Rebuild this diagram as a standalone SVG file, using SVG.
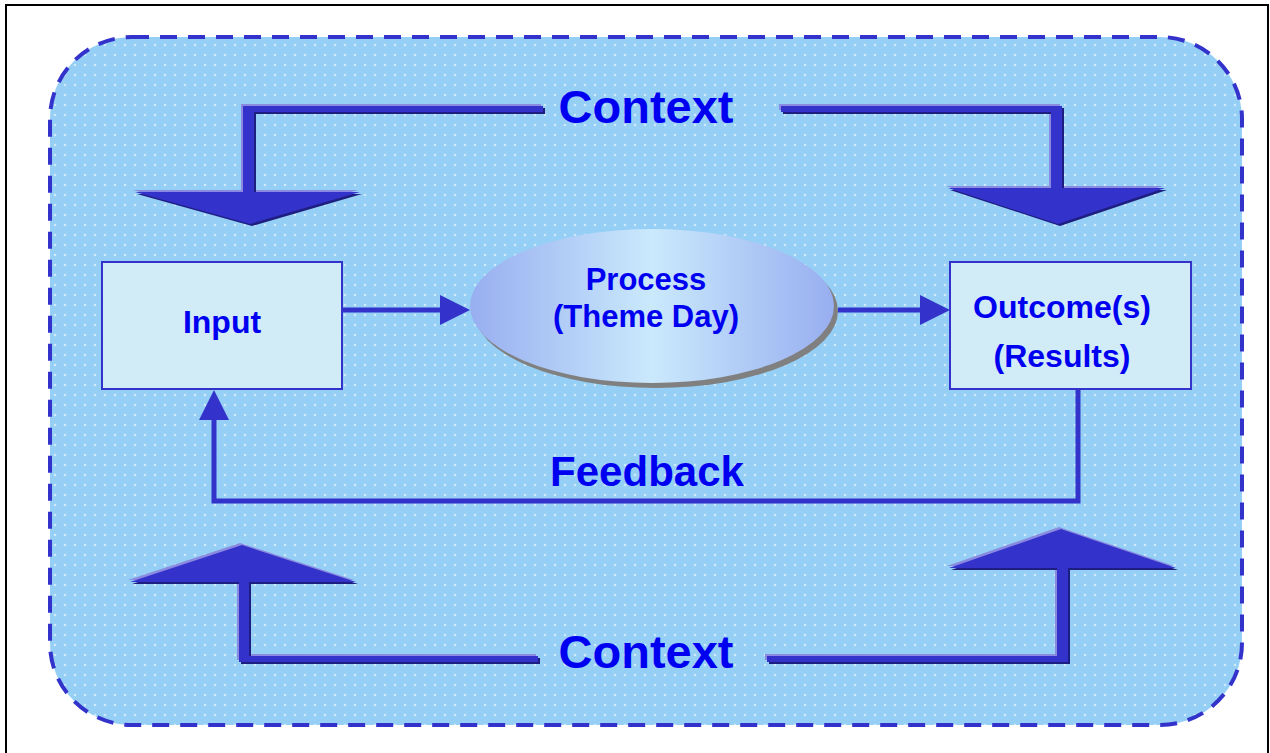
<svg xmlns="http://www.w3.org/2000/svg" width="1270" height="753" viewBox="0 0 1270 753">
  <style>
    .lbl { font-family: "Liberation Sans", Arial, sans-serif; font-weight: bold; fill: #0000F0; text-anchor: middle; }
    .box { fill: #D2ECF7; stroke: #3333CC; stroke-width: 2; }
    .flow { fill: none; stroke: #3333CC; stroke-width: 5; }
    .main { fill: #3333CC; }
    .hi { fill: #8A8AE0; }
    .sh { fill: #1E1E80; }
  </style>
  <defs>
    <pattern id="dots" width="10" height="10" patternUnits="userSpaceOnUse">
      <rect width="10" height="10" fill="#95CFF5"/>
      <circle cx="5" cy="5" r="1.3" fill="#CDE9FB"/>
    </pattern>
    <linearGradient id="procGrad" x1="0" y1="0" x2="1" y2="0">
      <stop offset="0" stop-color="#98AEF0"/>
      <stop offset="0.5" stop-color="#CAE9FC"/>
      <stop offset="1" stop-color="#98AEF0"/>
    </linearGradient>
    <marker id="ah" viewBox="0 0 30 30" markerWidth="30" markerHeight="30" markerUnits="userSpaceOnUse" refX="0" refY="15" orient="auto">
      <path d="M0,0 L30,15 L0,30 z" fill="#3333CC"/>
    </marker>
    <polygon id="ctxTL" points="543,106 243,106 243,192 135,192 250,224 360,192 254,192 254,112 543,112"/>
    <polygon id="ctxTR" points="781,106 1062,106 1062,188 1165,188 1058,224 948,188 1051,188 1051,112 781,112"/>
    <polygon id="ctxBL" points="242,545 356,582 249,582 249,656 538,656 538,662 239,662 239,582 130,582"/>
    <polygon id="ctxBR" points="1061,529 1176,568 1068,568 1068,662 767,662 767,656 1057,656 1057,568 949,568"/>
  </defs>

  <g id="frame">
    <rect x="0" y="0" width="1270" height="753" fill="#FFFFFF"/>
    <rect x="6" y="5" width="1262" height="800" fill="#FFFFFF" stroke="#000000" stroke-width="2"/>
  </g>

  <g id="background">
    <rect x="50" y="37" width="1192" height="688" rx="82" ry="82" fill="url(#dots)" stroke="#3333CC" stroke-width="4" stroke-dasharray="17,11"/>
  </g>

  <g id="context-top">
    <use href="#ctxTL" class="hi" transform="translate(-2,-2)"/>
    <use href="#ctxTL" class="sh" transform="translate(2,2)"/>
    <use href="#ctxTL" class="main"/>
    <use href="#ctxTR" class="hi" transform="translate(-2,-2)"/>
    <use href="#ctxTR" class="sh" transform="translate(2,2)"/>
    <use href="#ctxTR" class="main"/>
    <text class="lbl" x="646" y="123" font-size="47">Context</text>
  </g>

  <g id="context-bottom">
    <use href="#ctxBL" class="hi" transform="translate(-2,-2)"/>
    <use href="#ctxBL" class="sh" transform="translate(2,2)"/>
    <use href="#ctxBL" class="main"/>
    <use href="#ctxBR" class="hi" transform="translate(-2,-2)"/>
    <use href="#ctxBR" class="sh" transform="translate(2,2)"/>
    <use href="#ctxBR" class="main"/>
    <text class="lbl" x="646" y="668" font-size="47">Context</text>
  </g>

  <g id="connectors">
    <path class="flow" d="M342,310 H440" marker-end="url(#ah)"/>
    <path class="flow" d="M838,310 H920" marker-end="url(#ah)"/>
    <path class="flow" d="M1078,389 V501 H214 V420" marker-end="url(#ah)"/>
  </g>

  <g id="feedback-label">
    <text class="lbl" x="647" y="486" font-size="42">Feedback</text>
  </g>

  <g id="input">
    <rect class="box" x="102" y="262" width="240" height="127"/>
    <text class="lbl" x="222" y="333" font-size="32">Input</text>
  </g>

  <g id="process">
    <ellipse cx="656" cy="311" rx="182" ry="77" fill="#808080"/>
    <ellipse cx="652" cy="306" rx="182" ry="77" fill="url(#procGrad)"/>
    <text class="lbl" x="646" y="290" font-size="31">Process</text>
    <text class="lbl" x="646" y="327" font-size="31">(Theme Day)</text>
  </g>

  <g id="outcome">
    <rect class="box" x="950" y="262" width="241" height="127"/>
    <text class="lbl" x="1062" y="318" font-size="32">Outcome(s)</text>
    <text class="lbl" x="1062" y="367" font-size="32">(Results)</text>
  </g>
</svg>
